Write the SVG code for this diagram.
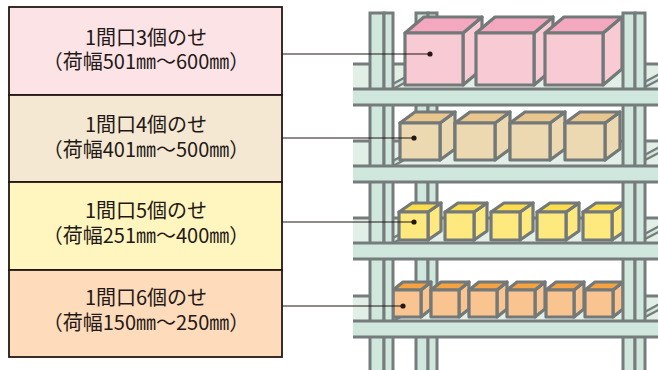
<svg xmlns="http://www.w3.org/2000/svg" xmlns:xlink="http://www.w3.org/1999/xlink" width="658" height="370" viewBox="0 0 658 370">
  <style>
    .label { font-family: "Noto Sans CJK JP", "Noto Sans", sans-serif; font-size: 20px; fill: #231815; text-anchor: middle; }
    .row { stroke: #231815; stroke-width: 1.8; }
    .post { fill: #cfe7dc; stroke: #767c7c; stroke-width: 3; }
    .beam { fill: #cfe7dc; }
    .deck { fill: #e2efe6; }
    .edge { stroke: #767c7c; stroke-width: 3; fill: none; }
    .brace-out { stroke: #767c7c; stroke-width: 7; }
    .brace-in { stroke: #cfe7dc; stroke-width: 2.5; }
    .box polygon, .box rect { stroke: #737978; stroke-width: 3.2; stroke-linejoin: round; }
    .face { fill: var(--face); }
    .lid { fill: var(--lid); }
    .pink { --face: #f8cbd4; --lid: #f3a8c0; }
    .tan { --face: #edd9b1; --lid: #e9c68e; }
    .lemon { --face: #fee97e; --lid: #fcdd4e; }
    .peach { --face: #f9c48f; --lid: #f6a240; }
    .lead { stroke: #231815; stroke-width: 1.2; }
  </style>
  <defs>
    <!-- carton shapes, origin at the front top-left corner -->
    <g id="box-l" class="box">
      <polygon class="face" points="58,0 77,-16 77,36 58,52"/>
      <polygon class="lid" points="0,0 19,-16 77,-16 58,0"/>
      <rect class="face" x="0" y="0" width="58" height="52"/>
    </g>
    <g id="box-m" class="box">
      <polygon class="face" points="40,0 55,-11 55,26 40,37"/>
      <polygon class="lid" points="0,0 15,-11 55,-11 40,0"/>
      <rect class="face" x="0" y="0" width="40" height="37"/>
    </g>
    <g id="box-s" class="box">
      <polygon class="face" points="29,0 42,-9 42,19 29,28"/>
      <polygon class="lid" points="0,0 13,-9 42,-9 29,0"/>
      <rect class="face" x="0" y="0" width="29" height="28"/>
    </g>
    <g id="box-xs" class="box">
      <polygon class="face" points="28,0 38,-8 38,19 28,27"/>
      <polygon class="lid" points="0,0 10,-8 38,-8 28,0"/>
      <rect class="face" x="0" y="0" width="28" height="27"/>
    </g>
  </defs>

  <rect width="658" height="370" fill="#ffffff"/>

  <!-- legend panels -->
  <g id="panel-3">
    <rect class="row" x="9" y="7" width="273" height="88" fill="#fce3e6"/>
    <text class="label" x="146" y="45">1間口3個のせ</text>
    <text class="label" x="146" y="69">（荷幅501㎜〜600㎜）</text>
  </g>
  <g id="panel-4">
    <rect class="row" x="9" y="95" width="273" height="87" fill="#f4e8d3"/>
    <text class="label" x="146" y="132">1間口4個のせ</text>
    <text class="label" x="146" y="157">（荷幅401㎜〜500㎜）</text>
  </g>
  <g id="panel-5">
    <rect class="row" x="9" y="182" width="273" height="88" fill="#fff5bf"/>
    <text class="label" x="146" y="218">1間口5個のせ</text>
    <text class="label" x="146" y="243">（荷幅251㎜〜400㎜）</text>
  </g>
  <g id="panel-6">
    <rect class="row" x="9" y="270" width="273" height="87" fill="#fddbbb"/>
    <text class="label" x="146" y="305">1間口6個のせ</text>
    <text class="label" x="146" y="330">（荷幅150㎜〜250㎜）</text>
  </g>

  <!-- storage rack -->
  <g id="rack">
    <!-- rear left upright -->
    <g id="rear-post">
      <rect class="post" x="416" y="13" width="12" height="370"/>
      <rect class="post" x="428" y="13" width="9" height="370"/>
    </g>

    <!-- shelf decks and side braces -->
    <g id="decks">
      <rect class="deck" x="353" y="64" width="310" height="25"/>
      <line class="edge" x1="353" y1="64" x2="660" y2="64"/>
      <rect class="deck" x="353" y="141" width="310" height="25"/>
      <line class="edge" x1="353" y1="141" x2="660" y2="141"/>
      <rect class="deck" x="353" y="218" width="310" height="25"/>
      <line class="edge" x1="353" y1="218" x2="660" y2="218"/>
      <rect class="deck" x="353" y="296" width="310" height="25"/>
      <line class="edge" x1="353" y1="296" x2="660" y2="296"/>
    </g>
    <g id="braces">
      <line class="brace-out" x1="392" y1="87" x2="418" y2="73"/>
      <line class="brace-in" x1="392" y1="87" x2="418" y2="73"/>
      <line class="brace-out" x1="644" y1="85" x2="670" y2="71"/>
      <line class="brace-in" x1="644" y1="85" x2="670" y2="71"/>
      <line class="brace-out" x1="392" y1="164" x2="418" y2="150"/>
      <line class="brace-in" x1="392" y1="164" x2="418" y2="150"/>
      <line class="brace-out" x1="644" y1="158" x2="670" y2="144"/>
      <line class="brace-in" x1="644" y1="158" x2="670" y2="144"/>
      <line class="brace-out" x1="392" y1="241" x2="418" y2="227"/>
      <line class="brace-in" x1="392" y1="241" x2="418" y2="227"/>
      <line class="brace-out" x1="644" y1="237" x2="670" y2="223"/>
      <line class="brace-in" x1="644" y1="237" x2="670" y2="223"/>
      <line class="brace-out" x1="392" y1="319" x2="418" y2="305"/>
      <line class="brace-in" x1="392" y1="319" x2="418" y2="305"/>
      <line class="brace-out" x1="644" y1="315" x2="670" y2="301"/>
      <line class="brace-in" x1="644" y1="315" x2="670" y2="301"/>
    </g>

    <!-- cartons -->
    <g id="shelf-3" class="pink">
      <use xlink:href="#box-l" x="405" y="33"/>
      <use xlink:href="#box-l" x="476" y="33"/>
      <use xlink:href="#box-l" x="545" y="33"/>
    </g>
    <g id="shelf-4" class="tan">
      <use xlink:href="#box-m" x="400" y="123"/>
      <use xlink:href="#box-m" x="455" y="123"/>
      <use xlink:href="#box-m" x="510" y="123"/>
      <use xlink:href="#box-m" x="565" y="123"/>
    </g>
    <g id="shelf-5" class="lemon">
      <use xlink:href="#box-s" x="399" y="212"/>
      <use xlink:href="#box-s" x="445" y="212"/>
      <use xlink:href="#box-s" x="491" y="212"/>
      <use xlink:href="#box-s" x="537" y="212"/>
      <use xlink:href="#box-s" x="583" y="212"/>
    </g>
    <g id="shelf-6" class="peach">
      <use xlink:href="#box-xs" x="393" y="290"/>
      <use xlink:href="#box-xs" x="431" y="290"/>
      <use xlink:href="#box-xs" x="469" y="290"/>
      <use xlink:href="#box-xs" x="507" y="290"/>
      <use xlink:href="#box-xs" x="546" y="290"/>
      <use xlink:href="#box-xs" x="585" y="290"/>
    </g>

    <!-- front uprights -->
    <g id="front-posts">
      <rect class="post" x="370" y="13" width="14" height="370"/>
      <rect class="post" x="384" y="13" width="9" height="370"/>
      <rect class="post" x="623" y="13" width="12" height="370"/>
      <rect class="post" x="635" y="13" width="10" height="370"/>
    </g>

    <!-- front beams -->
    <g id="beams">
      <rect class="beam" x="353" y="89" width="310" height="16"/>
      <line class="edge" x1="353" y1="89" x2="660" y2="89"/>
      <line class="edge" x1="353" y1="105" x2="660" y2="105"/>
      <rect class="beam" x="353" y="166" width="310" height="16"/>
      <line class="edge" x1="353" y1="166" x2="660" y2="166"/>
      <line class="edge" x1="353" y1="182" x2="660" y2="182"/>
      <rect class="beam" x="353" y="243" width="310" height="16"/>
      <line class="edge" x1="353" y1="243" x2="660" y2="243"/>
      <line class="edge" x1="353" y1="259" x2="660" y2="259"/>
      <rect class="beam" x="353" y="321" width="310" height="16"/>
      <line class="edge" x1="353" y1="321" x2="660" y2="321"/>
      <line class="edge" x1="353" y1="337" x2="660" y2="337"/>
    </g>
  </g>

  <!-- leader lines from the panels to the cartons -->
  <g id="connectors">
    <line class="lead" x1="282" y1="54" x2="430" y2="54"/>
    <circle cx="430" cy="54" r="2.6" fill="#231815"/>
    <line class="lead" x1="282" y1="138" x2="414" y2="138"/>
    <circle cx="414" cy="138" r="2.6" fill="#231815"/>
    <line class="lead" x1="282" y1="222" x2="414" y2="222"/>
    <circle cx="414" cy="222" r="2.6" fill="#231815"/>
    <line class="lead" x1="282" y1="306" x2="403" y2="306"/>
    <circle cx="403" cy="306" r="2.6" fill="#231815"/>
  </g>
</svg>
